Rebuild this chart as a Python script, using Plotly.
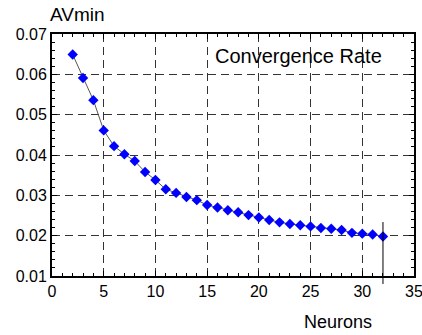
import plotly.graph_objects as go

neurons = list(range(2, 33))
avmin = [0.0649, 0.0591, 0.0536, 0.0461, 0.0422, 0.0402, 0.0385, 0.0358, 0.0338, 0.0315,
         0.0306, 0.0296, 0.0288, 0.0276, 0.0270, 0.0263, 0.0258, 0.0251, 0.0245, 0.0239,
         0.0233, 0.0229, 0.0226, 0.0223, 0.0219, 0.0217, 0.0214, 0.0207, 0.0205, 0.0203,
         0.0198]
x_ticks = [0, 5, 10, 15, 20, 25, 30, 35]
y_ticks = [0.01, 0.02, 0.03, 0.04, 0.05, 0.06, 0.07]
y_labels = ["0.01", "0.02", "0.03", "0.04", "0.05", "0.06", "0.07"]

FONT = "Liberation Sans, Arial, sans-serif"

fig = go.Figure()
fig.add_trace(go.Scatter(
    x=neurons, y=avmin, mode="lines+markers",
    line=dict(color="#555555", width=1),
    marker=dict(symbol="diamond", size=8, color="#0000ff", line=dict(width=0)),
    showlegend=False, cliponaxis=False,
))

grid_common = dict(gridcolor="#333333", gridwidth=1, griddash="8px,5px")

fig.update_xaxes(
    range=[0, 35], tickvals=x_ticks, ticktext=[str(v) for v in x_ticks],
    showline=True, linecolor="black", linewidth=2, mirror="ticks",
    ticks="inside", ticklen=5, tickcolor="black", tickwidth=1,
    minor=dict(dtick=1, ticks="inside", ticklen=3, tickcolor="black", showgrid=False),
    showgrid=True, **grid_common, zeroline=False,
    tickfont=dict(family=FONT, size=16, color="black"),
    ticklabeloverflow="allow", automargin=False,
)
fig.update_yaxes(
    range=[0.01, 0.07], tickvals=y_ticks, ticktext=y_labels,
    showline=True, linecolor="black", linewidth=2, mirror="ticks",
    ticks="inside", ticklen=5, tickcolor="black", tickwidth=1,
    minor=dict(dtick=0.002, ticks="inside", ticklen=3, tickcolor="black", showgrid=False),
    showgrid=True, **grid_common, zeroline=False,
    tickfont=dict(family=FONT, size=16, color="black"),
    automargin=False,
)

fig.add_shape(type="line", xref="x", yref="paper",
              x0=neurons[-1], x1=neurons[-1], y0=-0.033, y1=0.223,
              line=dict(color="black", width=1))

fig.add_annotation(text="Convergence Rate", xref="paper", yref="paper",
                   x=0.917, y=0.91, xanchor="right", yanchor="middle", showarrow=False,
                   font=dict(family=FONT, size=20, color="black"))
fig.add_annotation(text="AVmin", xref="paper", yref="paper",
                   x=-0.01, y=1.08, xanchor="left", yanchor="middle", showarrow=False,
                   font=dict(family=FONT, size=19, color="black"))
fig.add_annotation(text="Neurons", xref="paper", yref="paper",
                   x=0.791, y=-0.192, xanchor="center", yanchor="middle", showarrow=False,
                   font=dict(family=FONT, size=18, color="black"))

fig.update_layout(
    width=422, height=335,
    margin=dict(l=52, r=8, t=34, b=59),
    plot_bgcolor="white", paper_bgcolor="white",
)

fig.write_html("out.html")
